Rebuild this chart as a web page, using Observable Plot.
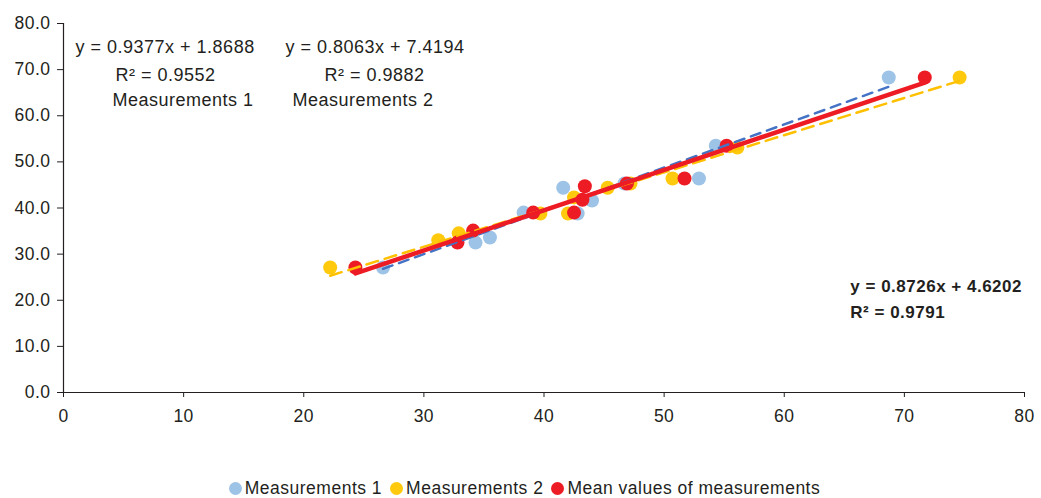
<!DOCTYPE html>
<html>
<head>
<meta charset="utf-8">
<script src="https://cdn.jsdelivr.net/npm/d3@7"></script>
<script src="https://cdn.jsdelivr.net/npm/@observablehq/plot@0.6"></script>
<style>
  body { margin: 0; background: #fff; font-family: "Liberation Sans", Arial, sans-serif; color: #231F20; }
  #legend { display: flex; justify-content: center; align-items: center; font-size: 17.5px; letter-spacing: 0.5px; height: 20px; padding-left: 8px; }
  .item { display: flex; align-items: center; margin: 0 4px; }
  .sw { width: 13px; height: 13px; border-radius: 50%; margin-right: 3px; }
</style>
</head>
<body>
<div id="chart"></div>
<div id="legend"></div>
<script>
// ---- data ----
const seriesNames = ["Measurements 1", "Measurements 2", "Mean values of measurements"];
const seriesColors = ["#9DC3E6", "#FFC90E", "#ED1C24"];
const lineColors = ["#4472C4", "#FFC000", "#ED1C24"];

const m1X = [26.6, 34.3, 35.5, 38.3, 42.8, 41.6, 44.0, 46.7, 52.9, 54.3, 68.7];
const m1Y = [27.1, 32.5, 33.6, 39.0, 38.8, 44.4, 41.6, 45.3, 46.4, 53.5, 68.3];

const m2X = [22.2, 31.2, 32.9, 39.7, 42.0, 45.3, 42.5, 47.2, 50.7, 56.1, 74.6];
const m2Y = [27.1, 33.0, 34.5, 38.8, 38.8, 44.4, 42.3, 45.3, 46.4, 53.1, 68.3];

const meanX = [24.3, 32.8, 34.1, 39.1, 42.5, 43.4, 43.2, 46.9, 51.7, 55.2, 71.7];
const meanY = [27.1, 32.5, 35.1, 39.0, 39.0, 44.7, 41.8, 45.3, 46.4, 53.5, 68.3];

const slopes = [0.9377, 0.8063, 0.8726];
const intercepts = [1.8688, 7.4194, 4.6202];
const eqLabels = ["y = 0.9377x + 1.8688", "y = 0.8063x + 7.4194", "y = 0.8726x + 4.6202"];
const r2Labels = ["R\u00B2 = 0.9552", "R\u00B2 = 0.9882", "R\u00B2 = 0.9791"];

const xTicks = [0, 10, 20, 30, 40, 50, 60, 70, 80];
const yTicks = [0, 10, 20, 30, 40, 50, 60, 70, 80];

// ---- build tables ----
const allX = [m1X, m2X, meanX];
const allY = [m1Y, m2Y, meanY];
const pts = allX.map((xs, s) => xs.map((x, i) => ({x, y: allY[s][i]})));
const trend = allX.map((xs, s) => {
  const [a, b] = d3.extent(xs);
  return [a, b].map(x => ({x, y: slopes[s] * x + intercepts[s]}));
});

const txt = {textAnchor: "start", lineAnchor: "middle", fill: "#231F20", fontSize: 18};
const bold = {textAnchor: "start", lineAnchor: "middle", fill: "#231F20", fontSize: 17, fontWeight: "bold"};

const plot = Plot.plot({
  width: 1041,
  height: 478,
  marginLeft: 63,
  marginRight: 17,
  marginTop: 23,
  marginBottom: 86,
  style: {fontFamily: "'Liberation Sans', Arial, sans-serif", fontSize: "17.5px", color: "#231F20", background: "#fff", letterSpacing: "0.5px"},
  x: {domain: [0, 80], label: null},
  y: {domain: [0, 80], label: null},
  marks: [
    Plot.axisX({ticks: xTicks, tickSize: 5, tickPadding: 12, tickFormat: d => String(d), stroke: "#231F20", fill: "#231F20", label: null}),
    Plot.axisY({ticks: yTicks, tickSize: 6, tickPadding: 7, tickFormat: d3.format(".1f"), stroke: "#231F20", fill: "#231F20", label: null}),
    Plot.ruleX([0], {stroke: "#231F20", strokeWidth: 1.2}),
    Plot.ruleY([0], {stroke: "#231F20", strokeWidth: 1.2}),
    Plot.dot(pts[0], {x: "x", y: "y", r: 7, fill: seriesColors[0]}),
    Plot.dot(pts[1], {x: "x", y: "y", r: 7, fill: seriesColors[1]}),
    Plot.dot(pts[2], {x: "x", y: "y", r: 7, fill: seriesColors[2]}),
    Plot.line(trend[0], {x: "x", y: "y", stroke: lineColors[0], strokeWidth: 2.5, strokeDasharray: "10,7"}),
    Plot.line(trend[1], {x: "x", y: "y", stroke: lineColors[1], strokeWidth: 2.5, strokeDasharray: "12,7"}),
    Plot.line(trend[2], {x: "x", y: "y", stroke: lineColors[2], strokeWidth: 4.5, strokeLinecap: "round"}),
    // annotations: series 1
    Plot.text([eqLabels[0]], {x: 1.0, y: 74.8, text: d => d, ...txt}),
    Plot.text([r2Labels[0]], {x: 4.33, y: 68.7, text: d => d, ...txt}),
    Plot.text([seriesNames[0]], {x: 4.08, y: 63.3, text: d => d, ...txt}),
    // series 2
    Plot.text([eqLabels[1]], {x: 18.48, y: 74.8, text: d => d, ...txt}),
    Plot.text([r2Labels[1]], {x: 21.73, y: 68.7, text: d => d, ...txt}),
    Plot.text([seriesNames[1]], {x: 19.06, y: 63.3, text: d => d, ...txt}),
    // mean (bold)
    Plot.text([eqLabels[2]], {x: 65.5, y: 23.0, text: d => d, ...bold}),
    Plot.text([r2Labels[2]], {x: 65.5, y: 17.3, text: d => d, ...bold})
  ]
});
document.getElementById("chart").appendChild(plot);

const legend = document.getElementById("legend");
seriesNames.forEach((name, i) => {
  const it = document.createElement("div");
  it.className = "item";
  const sw = document.createElement("div");
  sw.className = "sw";
  sw.style.background = seriesColors[i];
  const t = document.createElement("span");
  t.textContent = name;
  it.appendChild(sw);
  it.appendChild(t);
  legend.appendChild(it);
});
</script>
</body>
</html>
